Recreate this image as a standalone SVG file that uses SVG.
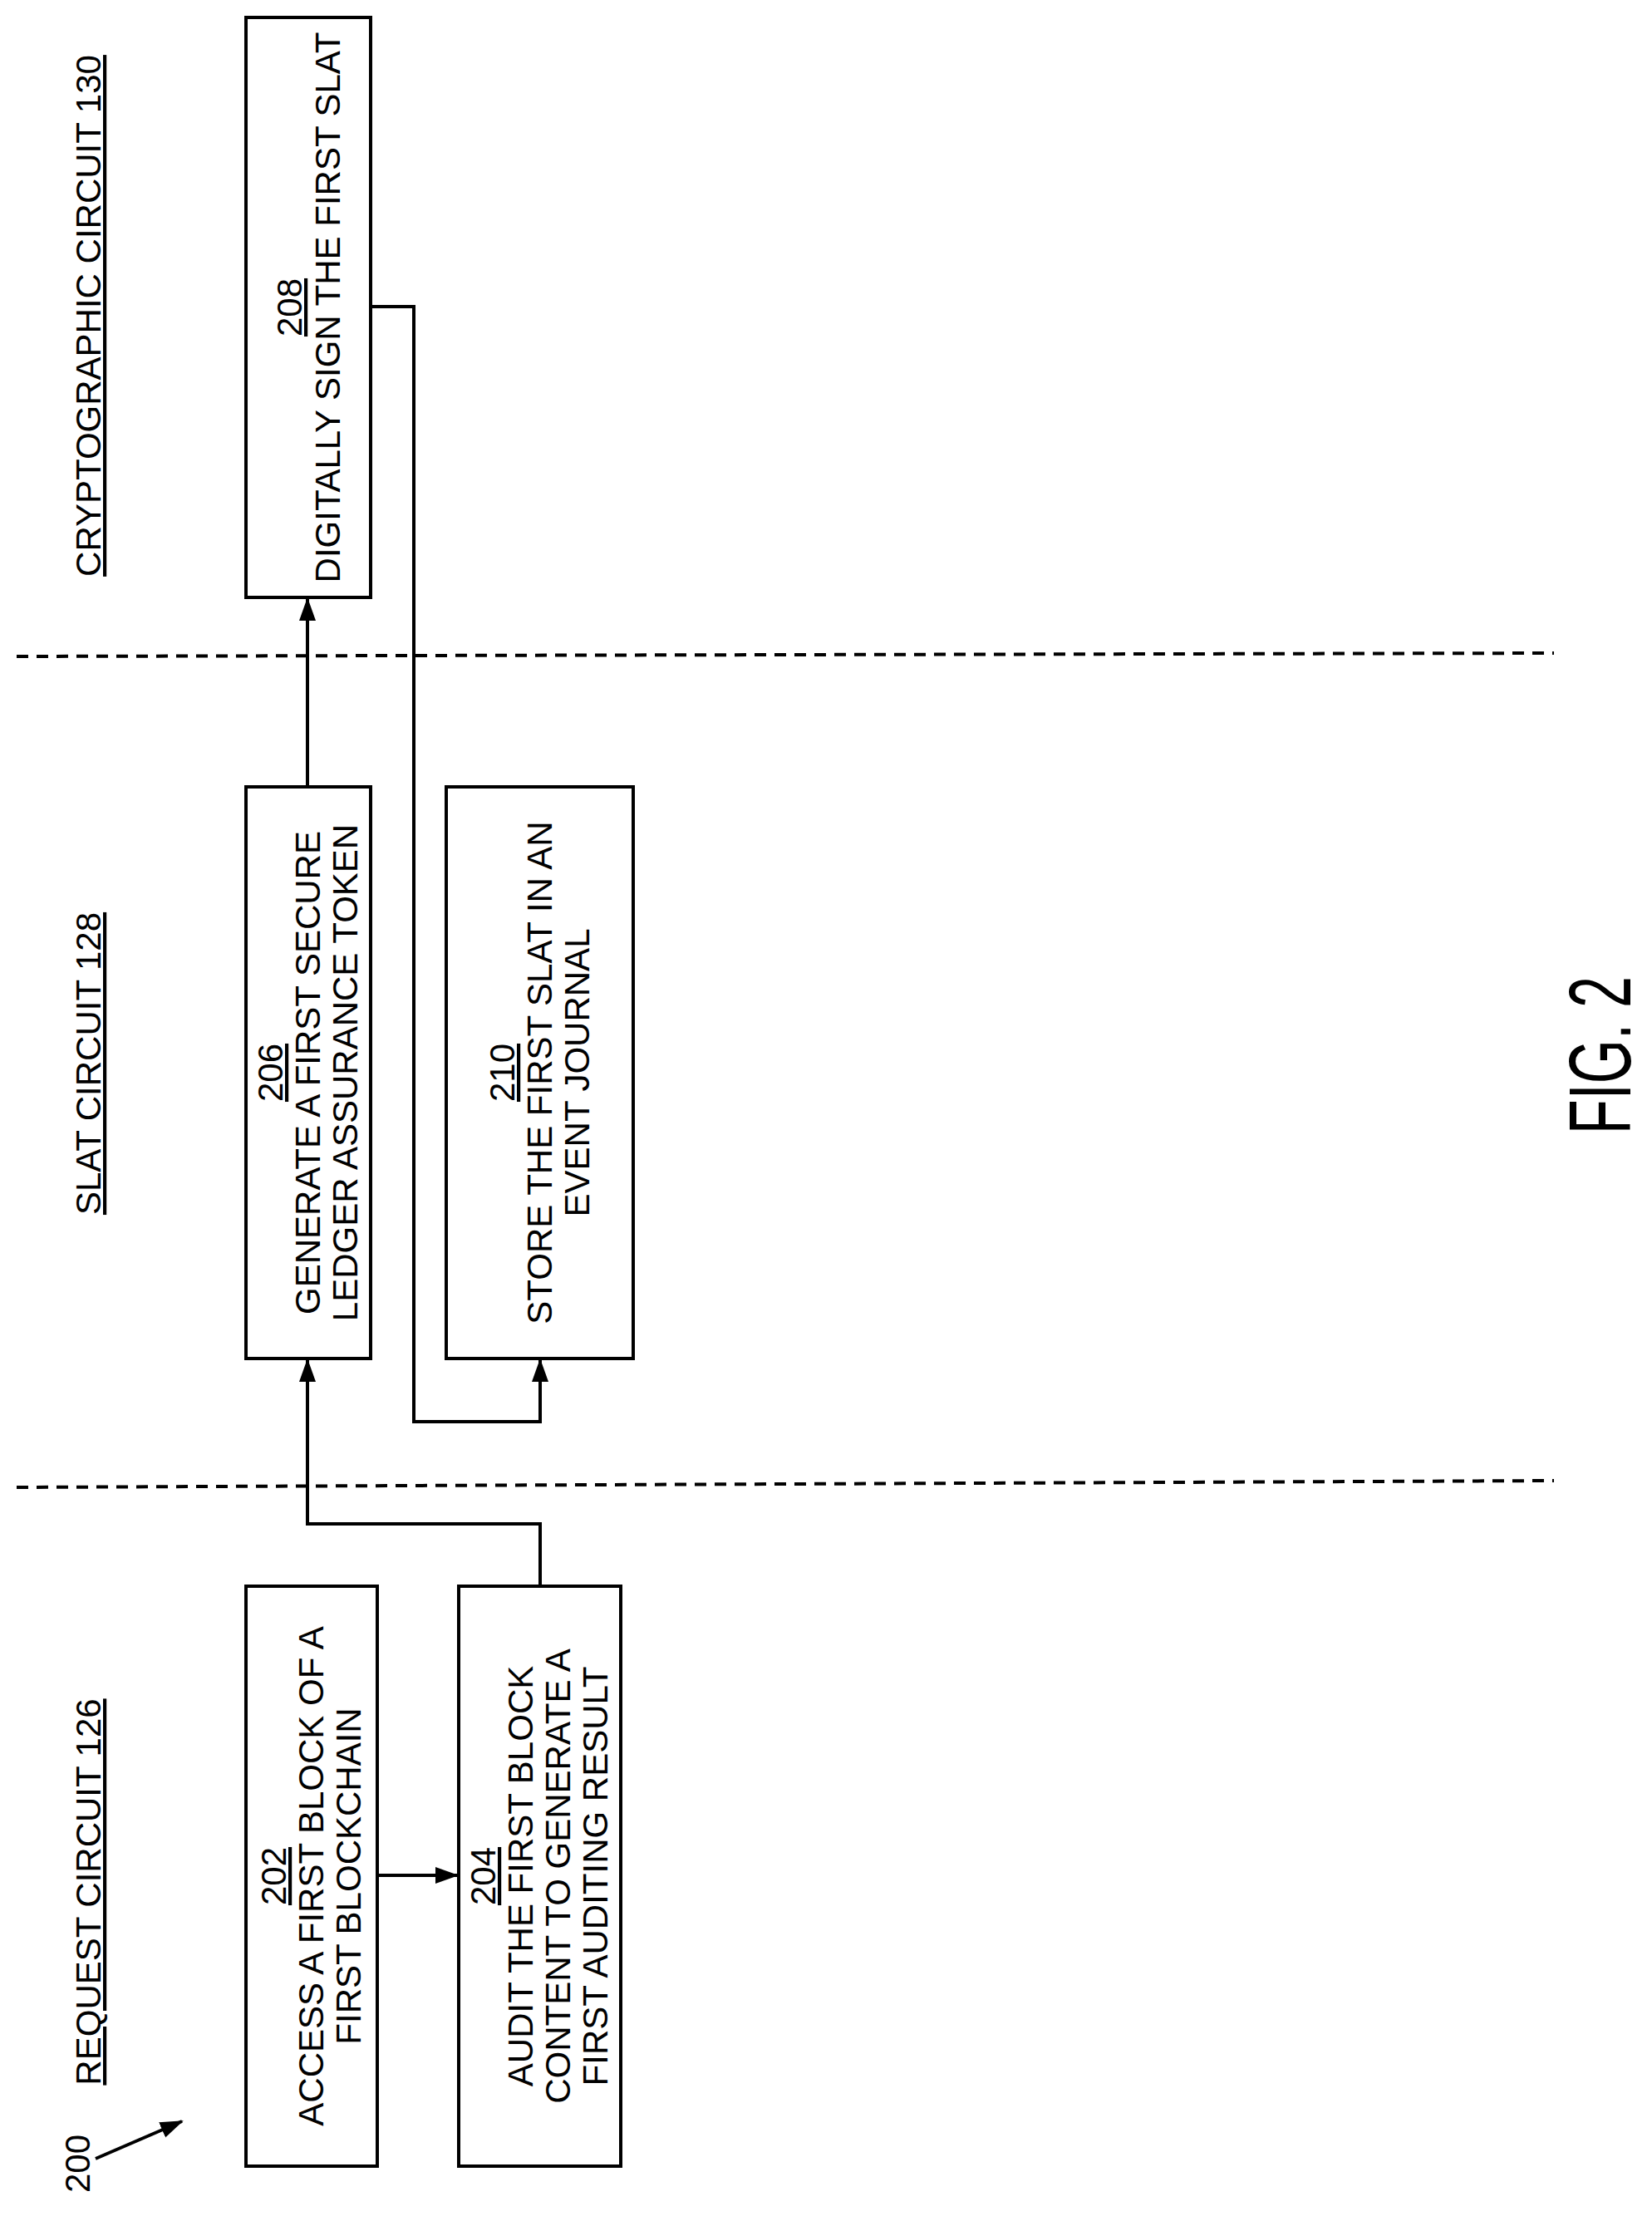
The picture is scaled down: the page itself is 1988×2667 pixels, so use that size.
<svg xmlns="http://www.w3.org/2000/svg" width="1988" height="2667" viewBox="0 0 1988 2667">
<style>
text{font-family:"Liberation Sans",Arial,sans-serif;fill:#000}
.t{font-size:42px;text-anchor:middle}
.u{text-decoration:underline}
.box{fill:#fff;stroke:#000;stroke-width:4}
.c{fill:none;stroke:#000;stroke-width:4}
.d{fill:none;stroke:#000;stroke-width:4;stroke-dasharray:14 10}
</style>
<defs>
<marker id="b" markerWidth="28" markerHeight="24" refX="26" refY="12" orient="auto" markerUnits="userSpaceOnUse"><path d="M0,2L28,12L0,22z" fill="#000"/></marker></defs>
<g id="lanes">
<line class="d" x1="20" y1="790" x2="1870" y2="786"/>
<line class="d" x1="20" y1="1790" x2="1870" y2="1782"/>
<text class="t u" transform="translate(121,380) rotate(-90)">CRYPTOGRAPHIC CIRCUIT 130</text>
<text class="t u" transform="translate(121,1280) rotate(-90)">SLAT CIRCUIT 128</text>
<text class="t u" transform="translate(121,2277) rotate(-90)">REQUEST CIRCUIT 126</text>
</g>
<g id="connectors">
<polyline class="c" points="370,947 370,721" marker-end="url(#b)"/>
<polyline class="c" points="446,369 498,369 498,1711 650,1711 650,1637" marker-end="url(#b)"/>
<polyline class="c" points="650,1909 650,1834 370,1834 370,1637" marker-end="url(#b)"/>
<polyline class="c" points="454,2257 550,2257" marker-end="url(#b)"/>
</g>
<g id="n208"><rect class="box" x="296" y="21" width="150" height="698"/>
<text class="t" transform="translate(371,370) rotate(-90)"><tspan class="u" x="0" y="-8">208</tspan><tspan x="0" y="38">DIGITALLY SIGN THE FIRST SLAT</tspan></text></g>
<g id="n206"><rect class="box" x="296" y="947" width="150" height="688"/>
<text class="t" transform="translate(371,1291) rotate(-90)"><tspan class="u" x="0" y="-31">206</tspan><tspan x="0" y="14">GENERATE A FIRST SECURE</tspan><tspan x="0" y="59">LEDGER ASSURANCE TOKEN</tspan></text></g>
<g id="n210"><rect class="box" x="537" y="947" width="225" height="688"/>
<text class="t" transform="translate(650,1291) rotate(-90)"><tspan class="u" x="0" y="-31">210</tspan><tspan x="0" y="14">STORE THE FIRST SLAT IN AN</tspan><tspan x="0" y="59">EVENT JOURNAL</tspan></text></g>
<g id="n202"><rect class="box" x="296" y="1909" width="158" height="698"/>
<text class="t" transform="translate(375,2258) rotate(-90)"><tspan class="u" x="0" y="-31">202</tspan><tspan x="0" y="14">ACCESS A FIRST BLOCK OF A</tspan><tspan x="0" y="59">FIRST BLOCKCHAIN</tspan></text></g>
<g id="n204"><rect class="box" x="552" y="1909" width="195" height="698"/>
<text class="t" transform="translate(650,2258) rotate(-90)"><tspan class="u" x="0" y="-54">204</tspan><tspan x="0" y="-9">AUDIT THE FIRST BLOCK</tspan><tspan x="0" y="36">CONTENT TO GENERATE A</tspan><tspan x="0" y="81">FIRST AUDITING RESULT</tspan></text></g>
<g id="ref200"><text class="t" transform="translate(108,2604) rotate(-90)">200</text>
<line class="c" x1="115" y1="2598" x2="219" y2="2553" marker-end="url(#b)"/></g>
<text transform="translate(1962,1270) rotate(-90)" style="font-size:105px;text-anchor:middle" textLength="190" lengthAdjust="spacingAndGlyphs">FIG. 2</text>
</svg>
